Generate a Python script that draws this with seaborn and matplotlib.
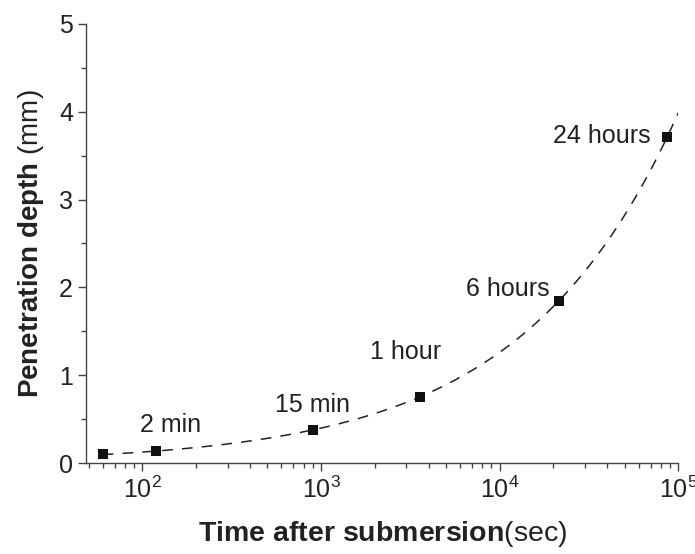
# Penetration depth vs. time after submersion (log x axis)
import numpy as np
import pandas as pd
import seaborn as sns
import matplotlib.pyplot as plt
from matplotlib.ticker import LogLocator, MultipleLocator, NullFormatter

# data
time_sec = [60, 120, 900, 3600, 21600, 86400]
depth_mm = [0.10, 0.14, 0.38, 0.75, 1.85, 3.71]
labels = ["", "2 min", "15 min", "1 hour", "6 hours", "24 hours"]

df = pd.DataFrame({"time": time_sec, "depth": depth_mm, "label": labels})

# fitted curve depth = k * sqrt(t), least squares from the points above
s = np.sqrt(df["time"].values)
k = (s * df["depth"].values).sum() / (s * s).sum()
fit_t = np.geomspace(60, 1e5, 200)
fit_df = pd.DataFrame({"time": fit_t, "depth": k * np.sqrt(fit_t)})

sns.set_style("ticks")
plt.rcParams["font.family"] = ["Liberation Sans", "DejaVu Sans"]
plt.rcParams["mathtext.fontset"] = "custom"
plt.rcParams["mathtext.rm"] = "Liberation Sans"
plt.rcParams["mathtext.bf"] = "Liberation Sans:bold"
plt.rcParams["mathtext.it"] = "Liberation Sans:italic"

fig = plt.figure(figsize=(6.95, 5.54), dpi=100)
ax = fig.add_axes([0.124, 0.164, 0.852, 0.793])

sns.lineplot(data=fit_df, x="time", y="depth", ax=ax, color="#222222",
             linewidth=1.1, dashes=False, linestyle=(0, (7, 6)))
sns.scatterplot(data=df, x="time", y="depth", ax=ax, marker="s", s=50,
                color="#111111", edgecolor="#111111", linewidth=0, zorder=3)

ax.set_xscale("log")
ax.set_xlim(48.5, 1e5)
ax.set_ylim(0, 5)

# point labels
txt = dict(fontsize=18, color="#222222", textcoords="offset points")
ax.annotate("2 min", (120, 0.14), xytext=(10, 10), ha="center", va="bottom", **txt)
ax.annotate("15 min", (900, 0.38), xytext=(0, 9), ha="center", va="bottom", **txt)
ax.annotate("1 hour", (3600, 0.75), xytext=(-11, 24), ha="center", va="bottom", **txt)
ax.annotate("6 hours", (21600, 1.85), xytext=(-7, 3), ha="right", va="baseline", **txt)
ax.annotate("24 hours", (86400, 3.71), xytext=(-12, -4), ha="right", va="baseline", **txt)

# ticks
ax.xaxis.set_major_locator(LogLocator(base=10, numticks=10))
ax.xaxis.set_minor_locator(LogLocator(base=10, subs=np.arange(2, 10), numticks=20))
ax.xaxis.set_minor_formatter(NullFormatter())
ax.yaxis.set_major_locator(MultipleLocator(1))
ax.yaxis.set_minor_locator(MultipleLocator(0.5))
ax.tick_params(which="major", length=6, width=1, color="#444444",
               labelsize=18, labelcolor="#222222", direction="out")
ax.tick_params(which="minor", length=3.5, width=1, color="#444444", direction="out")

for side in ["top", "right"]:
    ax.spines[side].set_visible(False)
for side in ["left", "bottom"]:
    ax.spines[side].set_color("#444444")
    ax.spines[side].set_linewidth(1)

ax.set_xlabel(r"$\mathbf{Time\ after\ submersion}$(sec)", fontsize=20.5,
              labelpad=12, color="#222222")
ax.set_ylabel(r"$\mathbf{Penetration\ depth}$ (mm)", fontsize=20,
              labelpad=9, color="#222222")

fig.savefig("out.png", dpi=100)
